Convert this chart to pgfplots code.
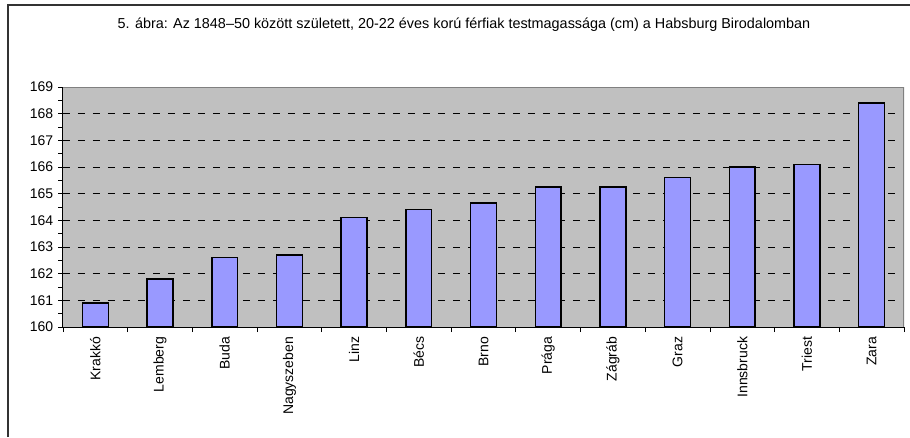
\documentclass[border=0pt]{standalone}
\usepackage{pgfplots}
\usepackage{pgfplotstable}
\pgfplotsset{compat=1.18}
\usepackage{fontspec}
\setmainfont{Liberation Sans}

\definecolor{barfill}{HTML}{9999FF}
\definecolor{plotbg}{HTML}{C0C0C0}
\definecolor{framegray}{HTML}{808080}

% testmagassag (cm), varosonkent
\pgfplotstableread{
x     h
0.5   160.9
1.5   161.8
2.5   162.6
3.5   162.7
4.5   164.1
5.5   164.4
6.5   164.65
7.5   165.25
8.5   165.25
9.5   165.6
10.5  166.0
11.5  166.1
12.5  168.4
}\heights

\begin{document}
\fontsize{14}{17}\selectfont
\begin{tikzpicture}[x=1pt,y=1pt]
\path[use as bounding box] (0,0) rectangle (910,437);
\draw[black!80, line width=1.3pt] (8,0) -- (8,432) -- (910,432);
\node[font=\fontsize{14.4}{17}\selectfont] at (464,412)
  {5. ábra: Az 1848–50 között született, 20-22 éves korú férfiak testmagassága (cm) a Habsburg Birodalomban};
\begin{axis}[
  at={(63pt,110pt)}, anchor=south west,
  scale only axis, width=841pt, height=240pt,
  xmin=0, xmax=13, ymin=160, ymax=169,
  axis background/.style={fill=plotbg},
  axis x line*=bottom, axis y line*=left,
  axis line style={black, line width=1pt},
  tick align=outside,
  major tick length=5pt, minor tick length=5pt,
  tick style={black, line width=0.8pt},
  ytick={160,161,...,169},
  minor ytick={160.5,161.5,...,168.5},
  xtick={0,1,...,13},
  xticklabels={},
  extra x ticks={0.5,1.5,...,12.5},
  extra x tick labels={Krakkó,Lemberg,Buda,Nagyszeben,Linz,Bécs,Brno,Prága,Zágráb,Graz,Innsbruck,Triest,Zara},
  extra x tick style={tick style={draw=none}},
  xticklabel style={rotate=90, anchor=east, font=\fontsize{14}{17}\selectfont},
  yticklabel style={font=\fontsize{14}{17}\selectfont},
  /pgf/number format/assume math mode=true,
  ymajorgrids,
  major grid style={black, line width=0.9pt, dash pattern=on 7pt off 8pt},
  ybar, bar width=0.4,
]
\addplot[fill=barfill, draw=black, line width=1.5pt] table[x=x, y=h] {\heights};
\draw[framegray, line width=1.2pt] (rel axis cs:0,1) -- (rel axis cs:1,1) -- (rel axis cs:1,0);
\end{axis}
\end{tikzpicture}
\end{document}
